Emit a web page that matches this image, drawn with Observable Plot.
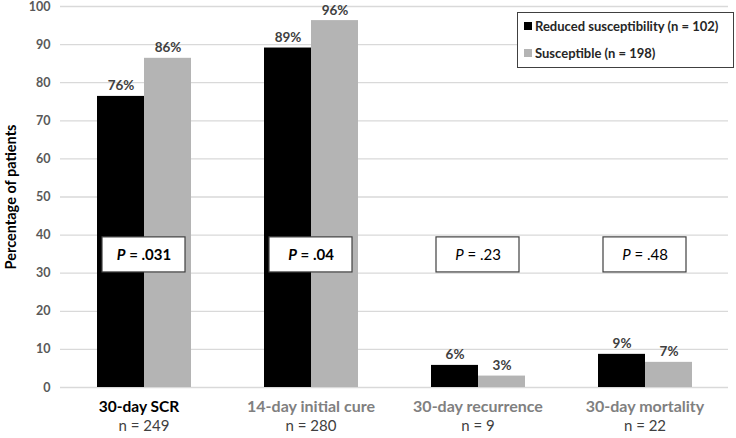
<!DOCTYPE html>
<html><head><meta charset="utf-8">
<script src="https://cdn.jsdelivr.net/npm/d3@7"></script>
<script src="https://cdn.jsdelivr.net/npm/@observablehq/plot@0.6"></script>
<style>
body{margin:0;background:#fff;font-family:Lato,sans-serif}
#wrap{position:relative;width:736px;height:438px}
#legend{position:absolute;left:517px;top:12px;width:217px;height:56px;border:1px solid #404040;background:#fff;font:bold 13px Lato,sans-serif;color:#262626;box-sizing:border-box}
#legend .item{position:absolute;left:6px;display:flex;align-items:center;white-space:nowrap}
#legend .sw{display:inline-block;width:8px;height:8px;margin-right:3px}
</style></head><body>
<div id="wrap"><div id="chart"></div><div id="legend"></div></div>
<script>
const categories = ["30-day SCR", "14-day initial cure", "30-day recurrence", "30-day mortality"];
const nLabels = ["n = 249", "n = 280", "n = 9", "n = 22"];
const series = ["Reduced susceptibility (n = 102)", "Susceptible (n = 198)"];
const seriesColors = ["#000000", "#b4b4b4"];
const reduced = [76.4, 89.1, 5.8, 8.7];
const susceptible = [86.4, 96.3, 3.0, 6.6];
const reducedLabels = ["76%", "89%", "6%", "9%"];
const susceptibleLabels = ["86%", "96%", "3%", "7%"];
const pValues = ["P = .031", "P = .04", "P = .23", "P = .48"];
const pBold = [true, true, false, false];
const yTicks = [0, 10, 20, 30, 40, 50, 60, 70, 80, 90, 100];
const yLabel = "Percentage of patients";

const rows = categories.flatMap((c, i) => [
  {category: c, series: series[0], value: reduced[i], label: reducedLabels[i]},
  {category: c, series: series[1], value: susceptible[i], label: susceptibleLabels[i]}
]);
const catRows = categories.map((c, i) => ({category: c, n: nLabels[i], p: pValues[i], bold: pBold[i], first: i === 0}));

const boxLow = 30.2, boxHigh = 39.4;

const plot = Plot.plot({
  width: 736, height: 438,
  marginLeft: 58, marginRight: 7, marginTop: 6, marginBottom: 51,
  style: {fontFamily: "Lato, sans-serif", background: "white", overflow: "visible"},
  fx: {domain: categories, paddingInner: 0, paddingOuter: 0, axis: null, label: null},
  x: {domain: series, paddingInner: 0, paddingOuter: 0.747, axis: null},
  y: {domain: [0, 100]},
  color: {domain: series, range: seriesColors},
  marks: [
    Plot.gridY(yTicks, {stroke: "#d9d9d9", strokeOpacity: 1, strokeWidth: 1.3}),
    Plot.axisY(yTicks, {tickSize: 0, tickPadding: 10, fontWeight: "bold", fontSize: 12.5, fill: "#595959", label: null}),
    Plot.barY(rows, {fx: "category", x: "series", y: "value", fill: "series"}),
    Plot.text(rows, {fx: "category", x: "series", y: "value", text: "label", lineAnchor: "bottom", dy: -6, fontWeight: "bold", fontSize: 13.5, fill: "#404040"}),
    Plot.barY(catRows, {fx: "category", y1: boxLow, y2: boxHigh, fill: "white", stroke: "#404040", strokeWidth: 1.2, insetLeft: 42, insetRight: 42}),
    Plot.text(catRows, {filter: d => d.bold, fx: "category", y: (boxLow + boxHigh) / 2, text: "p", fontSize: 15, fontWeight: "bold", fill: "#000"}),
    Plot.text(catRows, {filter: d => !d.bold, fx: "category", y: (boxLow + boxHigh) / 2, text: "p", fontSize: 15, fill: "#000"}),
    Plot.text(catRows, {filter: d => d.first, fx: "category", text: "category", frameAnchor: "bottom", dx: -5, dy: 24, fontSize: 15.5, fontWeight: "bold", fill: "#000"}),
    Plot.text(catRows, {filter: d => !d.first, fx: "category", text: "category", frameAnchor: "bottom", dy: 24, fontSize: 16, fontWeight: "bold", fill: "#808080"}),
    Plot.text(catRows, {fx: "category", text: "n", frameAnchor: "bottom", dy: 43, fontSize: 15, fill: "#404040"}),
    Plot.text([{category: categories[0], t: yLabel}], {fx: "category", text: "t", frameAnchor: "left", textAnchor: "middle", dx: -49, rotate: -90, fontSize: 14.5, fontWeight: "bold", fill: "#000"})
  ]
});
document.getElementById("chart").appendChild(plot);

// italic "P" in the P-value boxes
d3.select(plot).selectAll("text").filter(function() { return this.textContent.startsWith("P = "); })
  .each(function() {
    const rest = this.textContent.slice(1);
    this.textContent = "";
    d3.select(this).append("tspan").attr("font-style", "italic").text("P");
    d3.select(this).append("tspan").text(rest);
  });

// legend
const legend = d3.select("#legend");
series.forEach((s, i) => {
  const item = legend.append("div").attr("class", "item").style("top", (i === 0 ? 5 : 32) + "px");
  item.append("span").attr("class", "sw").style("background", seriesColors[i]);
  item.append("span").text(s);
});
</script>
</body></html>
